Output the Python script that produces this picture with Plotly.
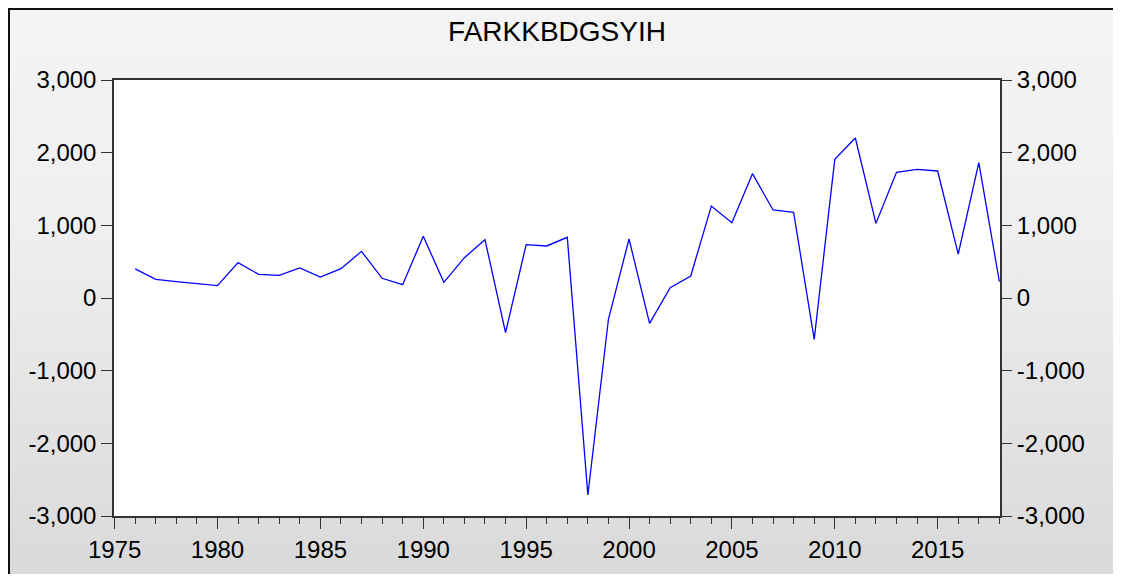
import base64
import plotly.graph_objects as go

title_text = "FARKKBDGSYIH"
years = list(range(1976, 2019))
values = [400, 257, 225, 197, 170, 486, 325, 312, 413, 289, 404, 642, 271, 183,
          849, 216, 555, 803, -477, 734, 716, 835, -2711, -293, 812, -349, 142,
          303, 1266, 1037, 1711, 1211, 1180, -569, 1908, 2202, 1027, 1729, 1770,
          1748, 605, 1862, 225]
y_tickvals = [-3000, -2000, -1000, 0, 1000, 2000, 3000]
y_ticktext = ["-3,000", "-2,000", "-1,000", "0", "1,000", "2,000", "3,000"]
x_tickvals = [1975, 1980, 1985, 1990, 1995, 2000, 2005, 2010, 2015]

SW, SH = 1121, 582  # screen size
OFF = 8  # page body margin offset
W, H = SW - 2 * OFF, SH - 2 * OFF
# target plot area on screen: x 114..1000, y 80..516
L = 114 - OFF
T = 80 - OFF
R = (OFF + W) - 1000
B = (OFF + H) - 516
PW, PH = W - L - R, H - T - B

def px_x(px):  # figure pixel -> paper
    return (px - L) / PW

def px_y(py):
    return (H - B - py) / PH

svg = (
    '<svg xmlns="http://www.w3.org/2000/svg" width="100" height="100" preserveAspectRatio="none">'
    '<defs><linearGradient id="g" x1="0" y1="0" x2="0" y2="1">'
    '<stop offset="0" stop-color="#f4f4f4"/>'
    '<stop offset="0.35" stop-color="#f0f0f0"/>'
    '<stop offset="1" stop-color="#d8d8d8"/>'
    '</linearGradient></defs>'
    '<rect x="0" y="0" width="100" height="100" fill="url(#g)"/></svg>'
)
svg_uri = "data:image/svg+xml;base64," + base64.b64encode(svg.encode()).decode()

font_family = "Liberation Sans, Arial, sans-serif"

fig = go.Figure()
fig.add_trace(go.Scatter(x=years, y=values, mode="lines",
                         line=dict(color="#0000ff", width=1.3),
                         showlegend=False, hoverinfo="x+y"))
fig.add_trace(go.Scatter(x=years, y=values, mode="lines", yaxis="y2",
                         line=dict(color="rgba(0,0,0,0)", width=0),
                         showlegend=False, hoverinfo="skip"))

axis_font = dict(family=font_family, size=24, color="#000000")

fig.update_layout(
    width=W, height=H,
    margin=dict(l=L, r=R, t=T, b=B, autoexpand=False),
    paper_bgcolor="#e8e8e8",
    plot_bgcolor="#ffffff",
    title=dict(text=title_text, x=0.5, xref="paper", xanchor="center",
               y=1 - (31 - OFF) / H, yref="container", yanchor="middle",
               font=dict(family=font_family, size=28, color="#000000")),
    xaxis=dict(range=[1974.97, 2018.03], tickvals=x_tickvals,
               ticks="outside", ticklen=11, tickwidth=1.2, tickcolor="#333333",
               minor=dict(dtick=1, tick0=1975, ticks="outside", ticklen=6,
                          tickwidth=1.2, tickcolor="#333333"),
               showline=True, linecolor="#333333", linewidth=1.5, mirror=True,
               showgrid=False, zeroline=False, tickfont=axis_font, automargin=False),
    yaxis=dict(range=[-3000, 3000], tickvals=y_tickvals, ticktext=y_ticktext,
               ticks="outside", ticklen=11, tickwidth=1.2, tickcolor="#333333",
               showline=True, linecolor="#333333", linewidth=1.5, mirror=True,
               showgrid=False, zeroline=False, tickfont=axis_font, automargin=False),
    yaxis2=dict(range=[-3000, 3000], tickvals=y_tickvals, ticktext=y_ticktext,
                overlaying="y", side="right",
                ticks="outside", ticklen=11, tickwidth=1.2, tickcolor="#333333",
                showline=False, showgrid=False, zeroline=False, tickfont=axis_font,
                automargin=False),
    images=[dict(source=svg_uri, xref="paper", yref="paper",
                 x=px_x(-5), y=px_y(-5), sizex=px_x(W + 20) - px_x(-5),
                 sizey=px_y(-5) - px_y(H + 20), xanchor="left", yanchor="top",
                 sizing="stretch", layer="below")],
    shapes=[
        dict(type="rect", xref="paper", yref="paper", x0=0, x1=1, y0=0, y1=1,
             fillcolor="#ffffff", line=dict(width=0), layer="below"),
        dict(type="line", xref="paper", yref="paper",
             x0=px_x(1), x1=px_x(1), y0=px_y(0), y1=px_y(H),
             line=dict(color="#111111", width=2)),
        dict(type="line", xref="paper", yref="paper",
             x0=px_x(0), x1=px_x(W), y0=px_y(1), y1=px_y(1),
             line=dict(color="#111111", width=2)),
    ],
)

fig.write_html("out.html")
